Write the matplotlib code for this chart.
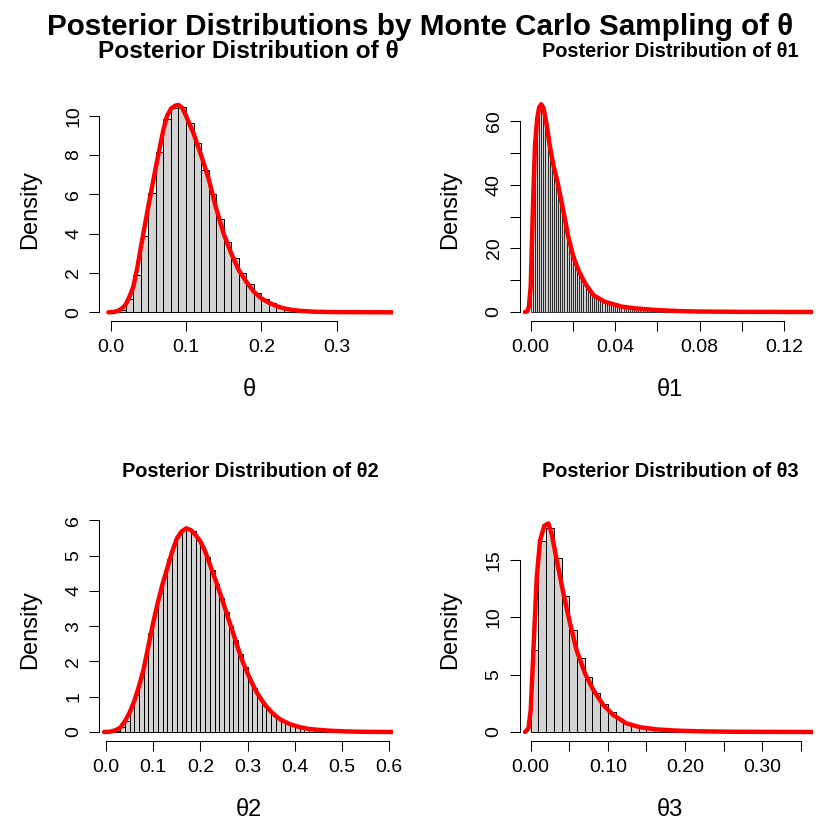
import matplotlib
matplotlib.use('Agg')
import matplotlib.pyplot as plt
import numpy as np

plt.rcParams['font.family'] = ['Liberation Sans', 'DejaVu Sans']

# ---- histogram densities ----
# theta: bins of 0.01 starting at 0
theta_start, theta_width = 0.0, 0.01
theta_hist = [0.02, 0.1, 0.66, 1.88, 3.9, 6.08, 8.14, 9.85, 10.4, 10.42,
              9.64, 8.63, 7.24, 6.03, 4.76, 3.59, 2.75, 1.98, 1.42, 0.97,
              0.66, 0.46, 0.29, 0.19, 0.12, 0.08, 0.05, 0.03, 0.02, 0.01,
              0.01, 0.005, 0.005, 0.003, 0.002, 0.001, 0.001]
theta_dens_x = [-0.003, 0.005, 0.01, 0.015, 0.02, 0.025, 0.03, 0.035, 0.04, 0.05,
                0.06, 0.07, 0.075, 0.08, 0.085, 0.09, 0.095, 0.10, 0.11, 0.12,
                0.13, 0.14, 0.15, 0.16, 0.17, 0.18, 0.19, 0.20, 0.21, 0.22,
                0.23, 0.24, 0.25, 0.27, 0.30, 0.374]
theta_dens_y = [0.0, 0.02, 0.08, 0.2, 0.4, 0.8, 1.3, 2.2, 3.3, 5.4,
                7.4, 9.3, 10.0, 10.35, 10.5, 10.55, 10.4, 10.0, 9.1, 8.0,
                6.8, 5.3, 4.0, 3.0, 2.15, 1.56, 1.05, 0.71, 0.49, 0.32,
                0.2, 0.13, 0.08, 0.03, 0.01, 0.0]

# theta1: bins of 0.001 starting at 0
theta1_start, theta1_width = 0.0, 0.001
theta1_hist = [21, 54, 61, 64.5, 65.5, 64.5, 62, 59, 55, 50.5,
               47, 43.5, 40, 36.5, 33, 30, 27, 24.5, 22, 19.5,
               17.5, 15.5, 14, 12.5, 11, 9.6, 8.5, 7.5, 6.6, 5.8,
               5.1, 4.5, 4.0, 3.6, 3.3, 3.0, 2.7, 2.5, 2.3, 2.1,
               1.95, 1.8, 1.7, 1.6, 1.5, 1.4, 1.3, 1.2, 1.15, 1.1,
               1.0, 0.96, 0.92, 0.88, 0.84, 0.8, 0.76, 0.72, 0.68, 0.64,
               0.6, 0.57, 0.54, 0.5, 0.47, 0.44, 0.41, 0.38, 0.35, 0.32,
               0.3, 0.28, 0.26, 0.24, 0.22, 0.2, 0.19, 0.18, 0.17, 0.16,
               0.15, 0.14, 0.13, 0.12, 0.11, 0.1, 0.1, 0.09, 0.09, 0.08,
               0.08, 0.07, 0.07, 0.06, 0.06, 0.06, 0.05, 0.05, 0.05, 0.04,
               0.04, 0.04, 0.03, 0.03, 0.03, 0.03, 0.02, 0.02, 0.02, 0.02,
               0.02, 0.01, 0.01, 0.01, 0.01, 0.01, 0.01, 0.01, 0.01, 0.01,
               0.01, 0.01, 0, 0, 0.01, 0, 0, 0, 0, 0, 0, 0.01]
theta1_dens_x = [-0.0027, -0.0015, -0.0008, 0.0, 0.001, 0.002, 0.003, 0.004, 0.005, 0.006,
                 0.007, 0.008, 0.009, 0.0108, 0.0125, 0.0139, 0.0163, 0.0178, 0.0202, 0.0226,
                 0.0258, 0.0297, 0.0352, 0.0431, 0.0494, 0.06, 0.07, 0.08, 0.10, 0.134]
theta1_dens_y = [0.0, 0.3, 2.0, 8.0, 32.0, 52.0, 60.5, 64.3, 65.3, 64.2,
                 61.0, 57.0, 52.5, 46.0, 41.5, 37.0, 29.0, 23.7, 17.4, 13.2,
                 9.0, 5.3, 3.2, 1.7, 1.15, 0.6, 0.3, 0.15, 0.05, 0.0]

# theta2: bins of 0.01 starting at 0.01
theta2_start, theta2_width = 0.01, 0.01
theta2_hist = [0.01, 0.04, 0.13, 0.3, 0.7, 1.05, 1.55, 2.1, 2.8, 3.4,
               3.95, 4.4, 4.9, 5.3, 5.6, 5.72, 5.75, 5.7, 5.45, 5.25,
               4.95, 4.6, 4.2, 3.8, 3.4, 3.0, 2.6, 2.2, 1.85, 1.5,
               1.25, 1.0, 0.8, 0.63, 0.5, 0.4, 0.32, 0.26, 0.21, 0.16,
               0.12, 0.09, 0.07, 0.05, 0.04, 0.03, 0.02, 0.015, 0.01, 0.005,
               0.005, 0.003, 0.002, 0.002, 0.001, 0.001, 0.0, 0.001]
theta2_dens_x = [-0.004, 0.01, 0.02, 0.03, 0.04, 0.05, 0.06, 0.07, 0.08, 0.09,
                 0.10, 0.11, 0.12, 0.13, 0.14, 0.15, 0.16, 0.17, 0.18, 0.19,
                 0.20, 0.21, 0.22, 0.23, 0.24, 0.25, 0.26, 0.27, 0.28, 0.29,
                 0.30, 0.31, 0.32, 0.33, 0.34, 0.35, 0.36, 0.37, 0.39, 0.41,
                 0.43, 0.47, 0.51, 0.55, 0.612]
theta2_dens_y = [0.0, 0.01, 0.05, 0.12, 0.3, 0.55, 0.88, 1.3, 1.8, 2.45,
                 3.1, 3.68, 4.2, 4.65, 5.1, 5.48, 5.68, 5.77, 5.72, 5.58,
                 5.4, 5.12, 4.75, 4.38, 4.0, 3.6, 3.18, 2.78, 2.36, 1.98,
                 1.66, 1.37, 1.11, 0.9, 0.72, 0.57, 0.45, 0.35, 0.22, 0.14,
                 0.085, 0.04, 0.015, 0.005, 0.0]

# theta3: bins of 0.01 starting at 0
theta3_start, theta3_width = 0.0, 0.01
theta3_hist = [7.14, 16.7, 17.8, 15.2, 11.9, 8.9, 6.5, 4.76, 3.4, 2.4,
               1.71, 1.16, 0.81, 0.55, 0.4, 0.29, 0.2, 0.14, 0.1, 0.07,
               0.05, 0.04, 0.03, 0.02, 0.015, 0.01, 0.01, 0.005, 0.005, 0.003,
               0.002, 0.002, 0.001, 0.001, 0.0, 0.001]
theta3_dens_x = [-0.0073, -0.003, 0.0, 0.0035, 0.0078, 0.0121, 0.0177, 0.0229, 0.0272, 0.0337,
                 0.0423, 0.0509, 0.0596, 0.0704, 0.0812, 0.0941, 0.107, 0.124, 0.142, 0.163,
                 0.189, 0.219, 0.263, 0.366]
theta3_dens_y = [0.0, 0.3, 1.9, 7.1, 13.5, 16.7, 18.0, 18.2, 17.3, 15.0,
                 12.1, 9.5, 7.1, 5.1, 3.66, 2.35, 1.48, 0.75, 0.41, 0.23,
                 0.12, 0.06, 0.02, 0.0]

W = H = 840
fig = plt.figure(figsize=(8.4, 8.4), dpi=100)


def add_panel(left, top, right, bottom):
    return fig.add_axes([left / W, 1 - bottom / H, (right - left) / W, (bottom - top) / H])


def ftext(x, y, s, **kw):
    fig.text(x / W, 1 - y / H, s, **kw)


panels = [
    dict(start=theta_start, width=theta_width, hist=theta_hist,
         dx=theta_dens_x, dy=theta_dens_y, elw=0.7,
         box=(99.3, 99.2, 393.4, 320.5), xlim=(-0.01514, 0.3754), ylim=(-0.417, 10.84),
         xt=[0.0, 0.1, 0.2, 0.3], xl=['0.0', '0.1', '0.2', '0.3'],
         yt=[0, 2, 4, 6, 8, 10], yl=['0', '2', '4', '6', '8', '10'], xlab='θ'),
    dict(start=theta1_start, width=theta1_width, hist=theta1_hist,
         dx=theta1_dens_x, dy=theta1_dens_y, elw=0.5,
         box=(519.5, 99.2, 813.4, 320.5), xlim=(-0.00531, 0.13398), ylim=(-2.67, 66.9),
         xt=[0.0, 0.02, 0.04, 0.06, 0.08, 0.10, 0.12], xl=['0.00', '', '0.04', '', '0.08', '', '0.12'],
         yt=[0, 10, 20, 30, 40, 50, 60], yl=['0', '', '20', '', '40', '', '60'], xlab='θ1'),
    dict(start=theta2_start, width=theta2_width, hist=theta2_hist,
         dx=theta2_dens_x, dy=theta2_dens_y, elw=0.7,
         box=(99.3, 519.2, 393.4, 740.5), xlim=(-0.0142, 0.6089), ylim=(-0.241, 6.03),
         xt=[0.0, 0.1, 0.2, 0.3, 0.4, 0.5, 0.6], xl=['0.0', '0.1', '0.2', '0.3', '0.4', '0.5', '0.6'],
         yt=[0, 1, 2, 3, 4, 5, 6], yl=['0', '1', '2', '3', '4', '5', '6'], xlab='θ2'),
    dict(start=theta3_start, width=theta3_width, hist=theta3_hist,
         dx=theta3_dens_x, dy=theta3_dens_y, elw=0.7,
         box=(519.5, 519.2, 813.4, 740.5), xlim=(-0.01451, 0.3662), ylim=(-0.742, 18.57),
         xt=[0.0, 0.05, 0.10, 0.15, 0.20, 0.25, 0.30, 0.35],
         xl=['0.00', '', '0.10', '', '0.20', '', '0.30', ''],
         yt=[0, 5, 10, 15], yl=['0', '5', '10', '15'], xlab='θ3'),
]

for p in panels:
    ax = add_panel(*p['box'])
    edges = p['start'] + p['width'] * np.arange(len(p['hist']))
    ax.bar(edges, p['hist'], width=p['width'], align='edge', color='#d3d3d3',
           edgecolor='black', linewidth=p['elw'])
    ax.plot(p['dx'], p['dy'], color='red', lw=3.2, solid_capstyle='round',
            solid_joinstyle='round')
    ax.set_xlim(*p['xlim'])
    ax.set_ylim(*p['ylim'])
    ax.set_xticks(p['xt'])
    ax.set_xticklabels(p['xl'])
    ax.set_yticks(p['yt'])
    ax.set_yticklabels(p['yl'], rotation=90, va='center')
    for s in ['top', 'right']:
        ax.spines[s].set_visible(False)
    ax.spines['bottom'].set_bounds(p['xt'][0], p['xt'][-1])
    ax.spines['left'].set_bounds(p['yt'][0], p['yt'][-1])
    for s in ['bottom', 'left']:
        ax.spines[s].set_linewidth(0.75)
    ax.tick_params(length=7.2, width=0.75, labelsize=14, direction='out')
    ax.tick_params(axis='x', pad=6)
    ax.tick_params(axis='y', pad=5)
    ax.patch.set_alpha(0)

    l, t, r, b = p['box']
    ftext((l + r) / 2 + 3, b + 75, p['xlab'], ha='center', va='baseline', fontsize=17)
    ftext(l - 69, (t + b) / 2, 'Density', ha='center', va='center', rotation=90, fontsize=17)

ftext(420, 35, 'Posterior Distributions by Monte Carlo Sampling of θ',
      ha='center', va='baseline', fontsize=21.3, fontweight='bold')
ftext(248.7, 58.3, 'Posterior Distribution of θ', ha='center', va='baseline',
      fontsize=17.6, fontweight='bold')
ftext(670, 56.7, 'Posterior Distribution of θ1', ha='center', va='baseline',
      fontsize=14.4, fontweight='bold')
ftext(250, 476.7, 'Posterior Distribution of θ2', ha='center', va='baseline',
      fontsize=14.4, fontweight='bold')
ftext(670, 476.7, 'Posterior Distribution of θ3', ha='center', va='baseline',
      fontsize=14.4, fontweight='bold')

fig.savefig('out.png', dpi=100, facecolor='white')
